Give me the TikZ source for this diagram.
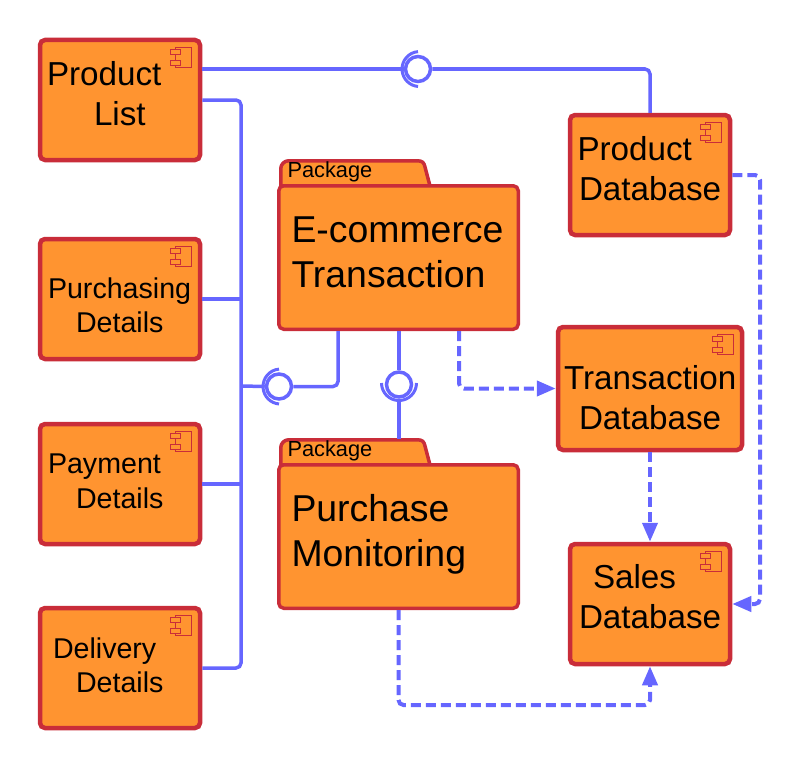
\documentclass[tikz,border=0pt]{standalone}
\usepackage{fontspec}
\setmainfont{Liberation Sans}
\usetikzlibrary{arrows.meta,calc}
\definecolor{wire}{HTML}{6666FF}
\definecolor{boxfill}{HTML}{FF9430}
\definecolor{boxline}{HTML}{C92D39}
\newcommand{\fs}[1]{\fontsize{#1}{#1}\selectfont}
\tikzset{
  comp/.style={draw=boxline,fill=boxfill,line width=4.5pt,rounded corners=5pt,inner sep=0pt,minimum width=160pt,minimum height=120pt},
  pkgbody/.style={draw=boxline,fill=boxfill,line width=3.5pt,rounded corners=5pt,inner sep=0pt,minimum width=239.5pt,minimum height=143.5pt},
  pkgtab/.style={draw=boxline,fill=boxfill,line width=3.5pt,line join=round},
  lbl/.style={anchor=base west,inner sep=0pt,outer sep=0pt,text=black},
  wireline/.style={draw=wire,line width=3.5pt,rounded corners=5pt},
  dashline/.style={draw=wire,line width=4pt,rounded corners=5pt,dash pattern=on 10pt off 5pt,-{Triangle[length=19pt,width=15pt]}},
  lolli/.style={circle,draw=wire,fill=white,line width=3.5pt,minimum size=25pt,inner sep=0pt},
  socket/.style={draw=wire,line width=3pt},
  pics/compicon/.style={code={
    \draw[boxline,line width=1pt] (-27,9.5) rectangle (-11,29.5);
    \draw[boxline,fill=boxfill,line width=1pt] (-32,12) rectangle (-22,17);
    \draw[boxline,fill=boxfill,line width=1pt] (-32,23) rectangle (-22,28);
  }},
}
\begin{document}
\begin{tikzpicture}[x=1pt,y=-1pt]
\useasboundingbox (0,0) rectangle (800,768);
% junction and interface
\coordinate (bus) at (241,386);
\coordinate (tabB) at (399,439);
\node[lolli] (ifa) at (418,69) {};
\node[lolli] (ifb) at (279,386.5) {};
\node[lolli] (ifc) at (399,384.5) {};
% components
\node[comp] (plist) at (120,100) {};
\node[comp] (purch) at (120,299) {};
\node[comp] (pay) at (120,484) {};
\node[comp] (deliv) at (120,668) {};
\node[comp] (pdb) at (650,175) {};
\node[comp,minimum width=184pt,minimum height=123pt] (tdb) at (650,388.5) {};
\node[comp] (sdb) at (650,604) {};
% packages
\path[pkgtab] (280.75,186) -- (280.75,168.75) arc[start angle=180,end angle=270,radius=8] -- (417,160.75) .. controls (423,160.75) and (424,163) .. (425,167) -- (430,186) -- cycle;
\node[pkgbody] (pkgA) at (398.5,257.5) {};
\path[pkgtab] (280.75,465) -- (280.75,447.75) arc[start angle=180,end angle=270,radius=8] -- (417,439.75) .. controls (423,439.75) and (424,442) .. (425,446) -- (430,465) -- cycle;
\node[pkgbody] (pkgB) at (398.5,536.5) {};
% icons
\foreach \n in {plist,purch,pay,deliv,pdb,tdb,sdb}{
  \path (\n.north east) pic {compicon};
}
% solid connectors
\draw[wireline] (plist.east |- ifa) -- (ifa.west);
\draw[wireline] (ifa.east) -| (pdb.north);
\draw[wireline] (plist.east) -- (plist.east -| bus) -- (bus |- deliv.east) -- (deliv.east);
\draw[wireline] (purch.east) -- (purch.east -| bus);
\draw[wireline] (pay.east) -- (pay.east -| bus);
\draw[wireline] (bus) -- (ifb.west);
\draw[wireline] (ifb.east) -| (pkgA.south -| 338,0);
\draw[wireline] (pkgA.south -| ifc) -- (ifc.north);
\draw[wireline] (ifc.south) -- (tabB);
% sockets
\draw[socket] ($(ifa)+(0,-17.4)$) arc[start angle=-95,end angle=-265,radius=17.5];
\draw[socket] ($(ifb)+(0,-17.4)$) arc[start angle=-95,end angle=-265,radius=17.5];
\draw[socket] ($(ifc)+(-17.5,-1.5)$) arc[start angle=180,end angle=0,radius=17.5];
% dashed connectors
\draw[dashline] (pkgA.south -| 459,0) |- (tdb.west);
\draw[dashline] (tdb.south) -- (sdb.north);
\draw[dashline] (pdb.east) -- (760,175) -- (760,604) -- (sdb.east);
\draw[dashline] (pkgB.south) |- (650,705) -- (sdb.south);
% labels
\node[lbl,font=\fs{33.2}] (t1) at (47,85) {Product};
\node[lbl,font=\fs{33.2}] (t2) at (94,125) {List};
\node[lbl,font=\fs{28.6}] (t3) at (48,298) {Purchasing};
\node[lbl,font=\fs{28.6}] (t4) at (76,332) {Details};
\node[lbl,font=\fs{28.6}] (t5) at (48,473) {Payment};
\node[lbl,font=\fs{28.6}] (t6) at (76,508) {Details};
\node[lbl,font=\fs{28.6}] (t7) at (53,658) {Delivery};
\node[lbl,font=\fs{28.6}] (t8) at (76,692) {Details};
\node[lbl,font=\fs{33.2}] (t9) at (577.5,160) {Product};
\node[lbl,font=\fs{33.2}] (t10) at (579,200) {Database};
\node[lbl,font=\fs{33.2}] (t11) at (564,389) {Transaction};
\node[lbl,font=\fs{33.2}] (t12) at (579,429) {Database};
\node[lbl,font=\fs{33.2}] (t13) at (593,588) {Sales};
\node[lbl,font=\fs{33.2}] (t14) at (579,628) {Database};
\node[lbl,font=\fs{37.4}] (t15) at (291.5,242) {E-commerce};
\node[lbl,font=\fs{37.4}] (t16) at (291.5,287) {Transaction};
\node[lbl,font=\fs{37.4}] (t17) at (291.5,521) {Purchase};
\node[lbl,font=\fs{37.4}] (t18) at (291.5,566.5) {Monitoring};
\node[lbl,font=\fs{21.8}] (t19) at (287.5,177.5) {Package};
\node[lbl,font=\fs{21.8}] (t20) at (287.5,456.5) {Package};
\end{tikzpicture}
\end{document}
